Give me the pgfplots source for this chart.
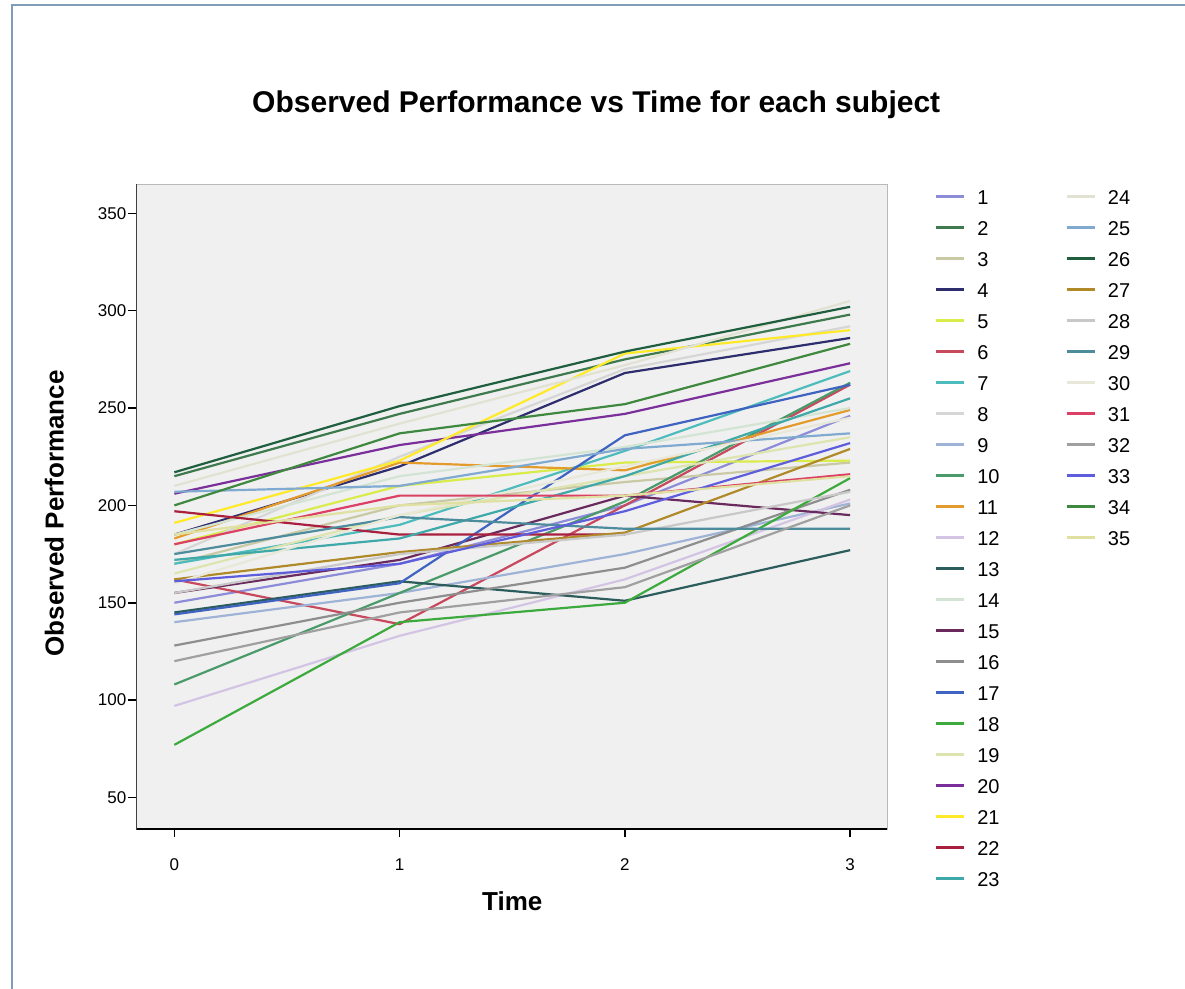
\documentclass[border=0pt]{standalone}
\usepackage{pgfplots}
\pgfplotsset{compat=1.18}
\usepackage{fontspec}
\setmainfont{Liberation Sans}
\definecolor{frame}{HTML}{7F9DB9}
\definecolor{plotbg}{HTML}{F0F0F0}
\definecolor{c1}{HTML}{8C8CD8}
\definecolor{c2}{HTML}{3E7A4E}
\definecolor{c3}{HTML}{C9C9A6}
\definecolor{c4}{HTML}{2E2E6E}
\definecolor{c5}{HTML}{D9EC4A}
\definecolor{c6}{HTML}{C8485E}
\definecolor{c7}{HTML}{4EBCBC}
\definecolor{c8}{HTML}{D6D6D6}
\definecolor{c9}{HTML}{9FB3D6}
\definecolor{c10}{HTML}{4A9A6A}
\definecolor{c11}{HTML}{E39B2C}
\definecolor{c12}{HTML}{D4C4E4}
\definecolor{c13}{HTML}{2C5C5C}
\definecolor{c14}{HTML}{D4E4D4}
\definecolor{c15}{HTML}{6B2A5E}
\definecolor{c16}{HTML}{8E8E8E}
\definecolor{c17}{HTML}{3F63C0}
\definecolor{c18}{HTML}{3DAA3D}
\definecolor{c19}{HTML}{DDE4B0}
\definecolor{c20}{HTML}{7A2F9A}
\definecolor{c21}{HTML}{FFEA2A}
\definecolor{c22}{HTML}{A8203E}
\definecolor{c23}{HTML}{3FA8A8}
\definecolor{c24}{HTML}{E2E2D2}
\definecolor{c25}{HTML}{80AAD0}
\definecolor{c26}{HTML}{1F5F3F}
\definecolor{c27}{HTML}{B08A28}
\definecolor{c28}{HTML}{C8C8C8}
\definecolor{c29}{HTML}{4C8C9C}
\definecolor{c30}{HTML}{E8E8D8}
\definecolor{c31}{HTML}{DC4064}
\definecolor{c32}{HTML}{A0A0A0}
\definecolor{c33}{HTML}{5E5EDC}
\definecolor{c34}{HTML}{3F883F}
\definecolor{c35}{HTML}{E0E0A0}
\begin{document}
\begin{tikzpicture}[x=1pt,y=1pt]
\useasboundingbox (0,0) rectangle (592.5,494.5);
\draw[frame, line width=0.8pt] (6,0) -- (6,492) -- (592.5,492);
\begin{axis}[
  at={(60.5,82)}, anchor=south west,
  scale only axis, width=375.5pt, height=322.5pt,
  xmin=-0.169, xmax=3.165, ymin=33.6, ymax=364.9,
  xtick={0,1,2,3}, ytick={50,100,150,200,250,300,350},
  tick pos=left, tick align=outside, major tick length=4pt,
  tick style={black, line width=0.8pt},
  axis line style={gray!55, line width=0.5pt},
  axis background/.style={fill=plotbg},
  /pgf/number format/assume math mode=true,
  ticklabel style={font=\fontsize{8.5}{10}\selectfont},
  xticklabel style={yshift=-7pt},
  yticklabel style={xshift=2.5pt},
  title={Observed Performance vs Time for each subject},
  title style={at={(axis description cs:0.6125,1.105)}, anchor=center, font=\bfseries\fontsize{15}{18}\selectfont},
  xlabel={Time},
  xlabel style={at={(axis description cs:0.5007,-0.112)}, anchor=center, font=\bfseries\fontsize{13}{15}\selectfont},
  ylabel={Observed Performance},
  ylabel style={at={(axis description cs:-0.109,0.49)}, anchor=center, font=\bfseries\fontsize{13}{15}\selectfont},
  every axis plot/.append style={line width=1.1pt, no markers},
  legend columns=2,
  legend cell align=left,
  legend image code/.code={\draw[#1, line width=1.3pt] (0pt,0pt) -- (14pt,0pt);},
  legend style={at={(axis description cs:1.0626,0.9930)}, anchor=north west,
    draw=none, fill=none, inner sep=0pt, row sep=8pt, column sep=0pt,
    font=\fontsize{10}{12}\selectfont,
    nodes={inner sep=0pt, text height=7.5pt, text depth=0pt, anchor=west, text width=30pt, align=left},
    /tikz/every odd column/.append style={column sep=6pt},
    /tikz/every even column/.append style={column sep=14pt}},
]
% ---- data (subjects 1-35), drawn without automatic legend entries
\addplot[c1, forget plot] coordinates {(0,150) (1,170) (2,200) (3,246)};
\addplot[c2, forget plot] coordinates {(0,215) (1,247) (2,275) (3,298)};
\addplot[c3, forget plot] coordinates {(0,170) (1,200) (2,212) (3,222)};
\addplot[c4, forget plot] coordinates {(0,185) (1,220) (2,268) (3,286)};
\addplot[c5, forget plot] coordinates {(0,180) (1,210) (2,222) (3,223)};
\addplot[c6, forget plot] coordinates {(0,162) (1,139) (2,200) (3,262)};
\addplot[c7, forget plot] coordinates {(0,170) (1,190) (2,228) (3,269)};
\addplot[c8, forget plot] coordinates {(0,175) (1,225) (2,270) (3,292)};
\addplot[c9, forget plot] coordinates {(0,140) (1,155) (2,175) (3,201)};
\addplot[c10, forget plot] coordinates {(0,108) (1,155) (2,202) (3,263)};
\addplot[c11, forget plot] coordinates {(0,183) (1,222) (2,218) (3,249)};
\addplot[c12, forget plot] coordinates {(0,97) (1,133) (2,162) (3,203)};
\addplot[c13, forget plot] coordinates {(0,145) (1,161) (2,151) (3,177)};
\addplot[c14, forget plot] coordinates {(0,185) (1,215) (2,230) (3,250)};
\addplot[c15, forget plot] coordinates {(0,155) (1,172) (2,205) (3,195)};
\addplot[c16, forget plot] coordinates {(0,128) (1,150) (2,168) (3,208)};
\addplot[c17, forget plot] coordinates {(0,144) (1,160) (2,236) (3,262)};
\addplot[c18, forget plot] coordinates {(0,77) (1,140) (2,150) (3,214)};
\addplot[c19, forget plot] coordinates {(0,165) (1,195) (2,215) (3,235)};
\addplot[c20, forget plot] coordinates {(0,206) (1,231) (2,247) (3,273)};
\addplot[c21, forget plot] coordinates {(0,191) (1,223) (2,278) (3,290)};
\addplot[c22, forget plot] coordinates {(0,197) (1,185) (2,185)};
\addplot[c23, forget plot] coordinates {(0,172) (1,183) (2,215) (3,255)};
\addplot[c24, forget plot] coordinates {(0,210) (1,242) (2,272) (3,305)};
\addplot[c25, forget plot] coordinates {(0,207) (1,210) (2,229) (3,237)};
\addplot[c26, forget plot] coordinates {(0,217) (1,251) (2,279) (3,302)};
\addplot[c27, forget plot] coordinates {(0,162) (1,176) (2,186) (3,229)};
\addplot[c28, forget plot] coordinates {(0,155) (1,175) (2,185) (3,207)};
\addplot[c29, forget plot] coordinates {(0,175) (1,194) (2,188) (3,188)};
\addplot[c30, forget plot] coordinates {(0,160) (1,195) (2,220) (3,245)};
\addplot[c31, forget plot] coordinates {(0,180) (1,205) (2,205) (3,216)};
\addplot[c32, forget plot] coordinates {(0,120) (1,145) (2,158) (3,200)};
\addplot[c33, forget plot] coordinates {(0,161) (1,170) (2,197) (3,232)};
\addplot[c34, forget plot] coordinates {(0,200) (1,237) (2,252) (3,283)};
\addplot[c35, forget plot] coordinates {(0,185) (1,200) (2,205) (3,215)};
% ---- legend: two columns, 1-23 on the left and 24-35 on the right
\addlegendimage{c1}\addlegendentry{1}
\addlegendimage{c24}\addlegendentry{24}
\addlegendimage{c2}\addlegendentry{2}
\addlegendimage{c25}\addlegendentry{25}
\addlegendimage{c3}\addlegendentry{3}
\addlegendimage{c26, line width=1.6pt}\addlegendentry{26}
\addlegendimage{c4}\addlegendentry{4}
\addlegendimage{c27}\addlegendentry{27}
\addlegendimage{c5}\addlegendentry{5}
\addlegendimage{c28}\addlegendentry{28}
\addlegendimage{c6}\addlegendentry{6}
\addlegendimage{c29}\addlegendentry{29}
\addlegendimage{c7}\addlegendentry{7}
\addlegendimage{c30}\addlegendentry{30}
\addlegendimage{c8}\addlegendentry{8}
\addlegendimage{c31}\addlegendentry{31}
\addlegendimage{c9}\addlegendentry{9}
\addlegendimage{c32}\addlegendentry{32}
\addlegendimage{c10}\addlegendentry{10}
\addlegendimage{c33}\addlegendentry{33}
\addlegendimage{c11}\addlegendentry{11}
\addlegendimage{c34}\addlegendentry{34}
\addlegendimage{c12}\addlegendentry{12}
\addlegendimage{c35}\addlegendentry{35}
\addlegendimage{c13}\addlegendentry{13}
\addlegendimage{empty legend}\addlegendentry{}
\addlegendimage{c14}\addlegendentry{14}
\addlegendimage{empty legend}\addlegendentry{}
\addlegendimage{c15}\addlegendentry{15}
\addlegendimage{empty legend}\addlegendentry{}
\addlegendimage{c16}\addlegendentry{16}
\addlegendimage{empty legend}\addlegendentry{}
\addlegendimage{c17}\addlegendentry{17}
\addlegendimage{empty legend}\addlegendentry{}
\addlegendimage{c18}\addlegendentry{18}
\addlegendimage{empty legend}\addlegendentry{}
\addlegendimage{c19}\addlegendentry{19}
\addlegendimage{empty legend}\addlegendentry{}
\addlegendimage{c20}\addlegendentry{20}
\addlegendimage{empty legend}\addlegendentry{}
\addlegendimage{c21}\addlegendentry{21}
\addlegendimage{empty legend}\addlegendentry{}
\addlegendimage{c22}\addlegendentry{22}
\addlegendimage{empty legend}\addlegendentry{}
\addlegendimage{c23}\addlegendentry{23}
\draw[black, line width=1.2pt] (rel axis cs:0,1) -- (rel axis cs:0,0) -- (rel axis cs:1,0);
\end{axis}
\end{tikzpicture}
\end{document}
